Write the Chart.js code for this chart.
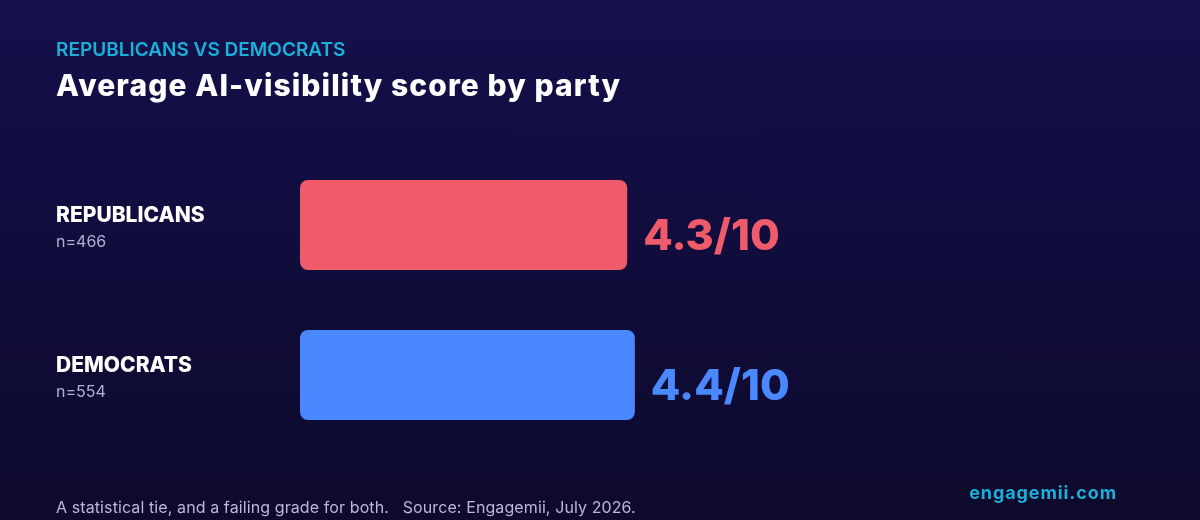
<!DOCTYPE html>
<html>
<head>
<meta charset="utf-8">
<script src="https://cdn.jsdelivr.net/npm/chart.js@4"></script>
<style>
  html, body { margin: 0; padding: 0; }
  body {
    width: 1200px; height: 520px; overflow: hidden; position: relative;
    background: linear-gradient(180deg, #14104b 0%, #100c3a 55%, #0d0a2c 100%);
    font-family: Inter, "Noto Sans", sans-serif;
  }
  #wrap { position: absolute; left: 0; top: 0; width: 1200px; height: 520px; }
  .txt { position: absolute; white-space: nowrap; }
  #kicker { left: 56px; top: 38px; font-size: 19px; font-weight: 600; color: #1cb0d8; line-height: 24px; }
  #title { left: 56px; top: 67px; font-size: 30px; font-weight: 800; color: #ffffff; line-height: 36px; letter-spacing: 1.1px; }
  #note { left: 56px; top: 496px; font-size: 16px; color: #bcb8d6; line-height: 22px; letter-spacing: 0.1px; }
  #brand { right: 83px; top: 481px; font-size: 18px; font-weight: 700; color: #1cb0d8; line-height: 24px; letter-spacing: 0.9px; }
</style>
</head>
<body>
<div id="wrap"><canvas id="myChart" width="1200" height="520"></canvas></div>
<div class="txt" id="kicker">REPUBLICANS VS DEMOCRATS</div>
<div class="txt" id="title">Average AI-visibility score by party</div>
<div class="txt" id="note">A statistical tie, and a failing grade for both.&nbsp;&nbsp;&nbsp;Source: Engagemii, July 2026.</div>
<div class="txt" id="brand">engagemii.com</div>
<script>
'use strict';

var parties = ['REPUBLICANS', 'DEMOCRATS'];
var sampleSizes = ['n=466', 'n=554'];
var scores = [4.3, 4.4];
var scoreLabels = ['4.3/10', '4.4/10'];
var barColors = ['#ef5b6b', '#4a88ff'];
var scaleMax = 10;

// labels left of the bars + score at the end of each bar
var labelPlugin = {
  id: 'partyLabels',
  afterDatasetsDraw: function(chart) {
    var ctx = chart.ctx;
    var meta = chart.getDatasetMeta(0);
    ctx.save();
    meta.data.forEach(function(bar, i) {
      var y = bar.y;
      ctx.textAlign = 'left';
      ctx.textBaseline = 'alphabetic';
      ctx.fillStyle = '#ffffff';
      ctx.font = '800 21px Inter, "Noto Sans", sans-serif';
      ctx.fillText(parties[i], 56, y - 3);
      ctx.fillStyle = '#b4b0d4';
      ctx.font = '400 16px Inter, "Noto Sans", sans-serif';
      ctx.fillText(sampleSizes[i], 56, y + 22);

      ctx.fillStyle = barColors[i];
      ctx.font = '800 43px Inter, "Noto Sans", sans-serif';
      ctx.fillText(scoreLabels[i], bar.x + 16, y + 25);
    });
    ctx.restore();
  }
};

var ctx = document.getElementById('myChart');

var myChart = new Chart(ctx, {
  type: 'bar',
  data: {
    labels: parties,
    datasets: [{
      data: scores,
      backgroundColor: barColors,
      borderWidth: 0,
      borderRadius: 8,
      borderSkipped: false,
      barPercentage: 0.6,
      categoryPercentage: 1.0
    }]
  },
  options: {
    indexAxis: 'y',
    responsive: false,
    animation: false,
    layout: { padding: { left: 300, right: 139, top: 150, bottom: 70 } },
    scales: {
      x: { display: false, min: 0, max: scaleMax },
      y: { display: false }
    },
    plugins: {
      legend: { display: false },
      tooltip: { enabled: false }
    }
  },
  plugins: [labelPlugin]
});
</script>
</body>
</html>
